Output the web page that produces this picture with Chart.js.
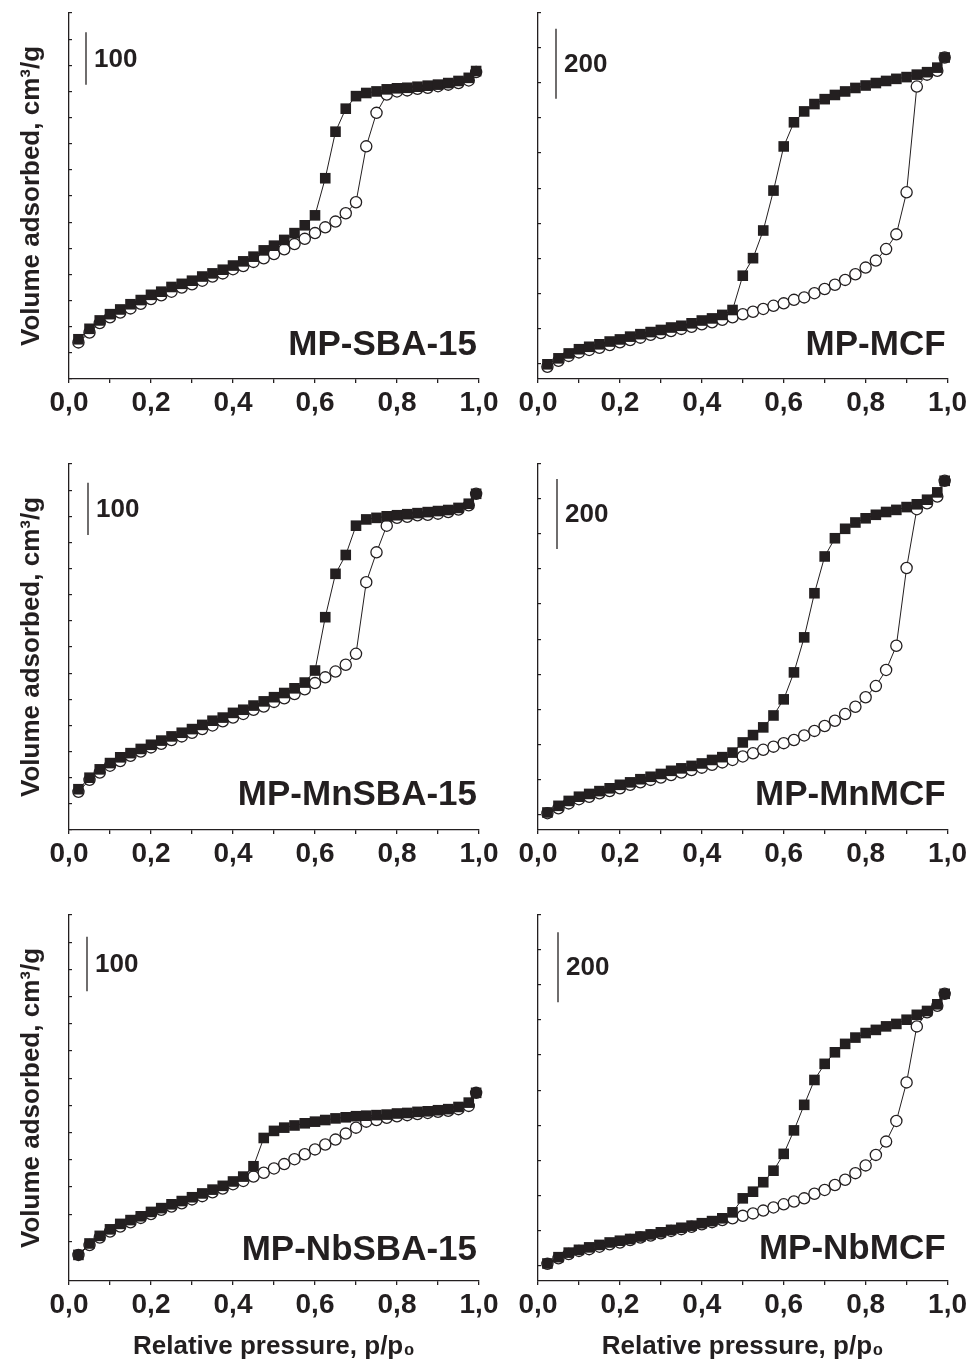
<!DOCTYPE html>
<html>
<head>
<meta charset="utf-8">
<script src="https://cdn.jsdelivr.net/npm/chart.js"></script>
<style>
  body { margin: 0; background: #fff; width: 970px; height: 1366px; position: relative; overflow: hidden; }
  canvas { position: absolute; }
</style>
</head>
<body>
<canvas id="c1" width="520" height="440" style="left:0;top:0"></canvas>
<canvas id="c2" width="501" height="440" style="left:469px;top:0"></canvas>
<canvas id="c3" width="520" height="440" style="left:0;top:451px"></canvas>
<canvas id="c4" width="501" height="440" style="left:469px;top:451px"></canvas>
<canvas id="c5" width="520" height="464" style="left:0;top:902px"></canvas>
<canvas id="c6" width="501" height="464" style="left:469px;top:902px"></canvas>
<script>
// relative pressure p/p0 (same grid for adsorption and desorption)
const pressure = [0.023, 0.05, 0.075, 0.1, 0.125, 0.15, 0.175, 0.2, 0.225, 0.25,
  0.275, 0.3, 0.325, 0.35, 0.375, 0.4, 0.425, 0.45, 0.475, 0.5,
  0.525, 0.55, 0.575, 0.6, 0.625, 0.65, 0.675, 0.7, 0.725, 0.75,
  0.775, 0.8, 0.825, 0.85, 0.875, 0.9, 0.925, 0.95, 0.975, 0.993];

// volume adsorbed, cm3/g (offset unknown)
const sbaAds = [76, 96, 112, 124, 133, 143, 151, 161, 167, 176, 182, 188, 196, 202, 209, 217, 225, 234, 246, 255,
  266, 279, 294, 313, 384, 473, 517, 541, 547, 550, 554, 556, 557, 559, 561, 563, 566, 570, 576, 589];
const sbaDes = [70, 89, 107, 118, 127, 135, 144, 153, 160, 167, 175, 181, 188, 196, 202, 210, 216, 224, 231, 239,
  248, 258, 268, 279, 290, 301, 317, 338, 445, 509, 544, 550, 552, 555, 557, 560, 563, 566, 571, 587];

const mcfAds = [97, 114, 128, 140, 147, 154, 162, 168, 176, 183, 189, 195, 202, 207, 214, 222, 228, 238, 252, 350,
  400, 479, 593, 719, 788, 819, 840, 854, 866, 876, 886, 893, 900, 906, 912, 917, 924, 931, 944, 973];
const mcfDes = [90, 107, 121, 131, 138, 144, 152, 160, 166, 173, 181, 186, 192, 198, 204, 211, 217, 224, 231, 240,
  247, 255, 264, 271, 281, 288, 300, 312, 324, 338, 354, 373, 393, 426, 468, 588, 890, 924, 935, 973];

const mnSbaAds = [78, 100, 116, 128, 139, 147, 155, 163, 171, 179, 186, 193, 201, 209, 215, 224, 230, 238, 246, 254,
  262, 271, 282, 305, 407, 490, 526, 582, 594, 597, 600, 602, 604, 606, 608, 610, 612, 616, 624, 643];
const mnSbaDes = [73, 96, 110, 123, 132, 142, 150, 158, 165, 172, 179, 186, 193, 200, 208, 215, 222, 230, 236, 245,
  252, 260, 269, 281, 292, 303, 316, 337, 474, 531, 582, 597, 599, 602, 603, 605, 608, 613, 621, 643];

const mnMcfAds = [105, 124, 138, 150, 158, 166, 174, 184, 191, 200, 207, 215, 224, 231, 238, 245, 255, 263, 276, 305,
  326, 348, 382, 428, 505, 605, 731, 836, 888, 915, 933, 945, 955, 963, 969, 977, 985, 998, 1019, 1052];
const mnMcfDes = [103, 117, 131, 143, 150, 160, 166, 174, 184, 191, 198, 205, 212, 219, 226, 233, 241, 248, 255, 265,
  274, 284, 293, 303, 312, 325, 338, 352, 367, 386, 407, 434, 466, 512, 581, 803, 971, 988, 1007, 1052];

const nbSbaAds = [75, 96, 110, 122, 132, 139, 146, 154, 161, 168, 174, 181, 188, 195, 202, 210, 219, 238, 290, 303,
  309, 313, 317, 320, 323, 326, 328, 330, 331, 332, 333, 335, 336, 338, 339, 341, 343, 347, 355, 373];
const nbSbaDes = [75, 93, 107, 118, 127, 135, 143, 150, 158, 164, 170, 177, 183, 190, 197, 205, 211, 219, 226, 234,
  242, 251, 260, 269, 278, 287, 298, 309, 320, 323, 327, 330, 332, 334, 336, 338, 340, 343, 349, 373];

const nbMcfAds = [105, 123, 136, 144, 151, 158, 165, 170, 175, 182, 188, 194, 201, 207, 213, 220, 226, 234, 251, 291,
  310, 337, 370, 418, 485, 558, 629, 675, 708, 732, 750, 763, 772, 782, 789, 801, 815, 826, 845, 875];
const nbMcfDes = [104, 120, 132, 141, 146, 153, 160, 165, 172, 179, 185, 191, 198, 203, 210, 217, 223, 229, 234, 241,
  248, 256, 265, 274, 282, 291, 304, 315, 329, 344, 363, 385, 415, 453, 512, 622, 782, 822, 841, 875];

const xTickValues = [0, 0.1, 0.2, 0.3, 0.4, 0.5, 0.6, 0.7, 0.8, 0.9, 1.0];
const xTickLabels = ['0,0', '', '0,2', '', '0,4', '', '0,6', '', '0,8', '', '1,0'];

const ink = '#231f20';
Chart.defaults.font.family = '"Liberation Sans", Arial, sans-serif';
Chart.defaults.font.weight = 'bold';
Chart.defaults.color = ink;

// scale bar + sample name inside each panel
const panelNote = {
  id: 'panelNote',
  afterDraw(chart, args, o) {
    const ctx = chart.ctx, a = chart.chartArea, y = chart.scales.y;
    const x0 = a.left + o.barX;
    const yTop = y.getPixelForValue(o.barFrom + o.barSpan);
    const yBot = y.getPixelForValue(o.barFrom);
    ctx.save();
    ctx.strokeStyle = ink;
    ctx.fillStyle = ink;
    ctx.lineWidth = 1.3;
    ctx.beginPath();
    ctx.moveTo(x0, yTop);
    ctx.lineTo(x0, yBot);
    ctx.stroke();
    ctx.font = 'bold 26px "Liberation Sans"';
    ctx.textBaseline = 'middle';
    ctx.fillText(String(o.barSpan), x0 + 8, (yTop + yBot) / 2 + 1);
    ctx.font = 'bold 35px "Liberation Sans"';
    ctx.textAlign = 'right';
    ctx.textBaseline = 'alphabetic';
    ctx.fillText(o.name, a.right - 2, a.bottom - o.nameDy);
    ctx.restore();
  }
};

function makePanel(id, name, ads, des, yMin, yMax, yStep, barFrom, barSpan, opt) {
  new Chart(document.getElementById(id), {
    type: 'scatter',
    data: {
      datasets: [{
        label: 'adsorption',
        data: pressure.map((p, i) => ({x: p, y: ads[i]})),
        showLine: true,
        borderColor: ink,
        borderWidth: 1,
        pointStyle: 'rect',
        pointRadius: 7.5,
        pointBackgroundColor: ink,
        pointBorderWidth: 0,
        clip: false
      }, {
        label: 'desorption',
        data: pressure.map((p, i) => ({x: p, y: des[i]})),
        showLine: true,
        borderColor: ink,
        borderWidth: 1,
        pointStyle: 'circle',
        pointRadius: 5.6,
        pointBackgroundColor: '#fff',
        pointBorderColor: ink,
        pointBorderWidth: 1.3,
        clip: false
      }]
    },
    options: {
      responsive: false,
      animation: false,
      events: [],
      layout: { padding: { left: 0, right: opt.padRight, top: 13, bottom: 0 } },
      plugins: {
        legend: { display: false },
        tooltip: { enabled: false },
        panelNote: { name: name, barFrom: barFrom, barSpan: barSpan, barX: opt.barX, nameDy: opt.nameDy }
      },
      scales: {
        x: {
          type: 'linear',
          min: 0,
          max: 1,
          afterBuildTicks: s => { s.ticks = xTickValues.map(v => ({value: v})); },
          afterFit: s => { s.height = opt.xHeight; },
          ticks: {
            autoSkip: false,
            maxRotation: 0,
            padding: 3,
            font: { size: 28, weight: 'bold' },
            callback: (v, i) => xTickLabels[i]
          },
          grid: { drawOnChartArea: false, drawTicks: true, tickLength: 4, color: ink, lineWidth: 1.3 },
          border: { color: ink, width: 1.3 },
          title: {
            display: opt.xTitle,
            text: 'Relative pressure, p/p\u2080',
            font: { size: 26, weight: 'bold' },
            padding: { top: 0, bottom: 4 }
          }
        },
        y: {
          min: yMin,
          max: yMax,
          afterBuildTicks: s => { s.ticks = s.ticks.filter(t => t.value % yStep === 0); },
          afterFit: s => { s.width = 69; },
          ticks: { display: false, stepSize: yStep },
          grid: { drawOnChartArea: false, drawTicks: true, tickLength: -3, color: ink, lineWidth: 1.2 },
          border: { color: ink, width: 1.3 },
          title: {
            display: opt.yTitle,
            text: 'Volume adsorbed, cm\u00b3/g',
            font: { size: 26, weight: 'bold' },
            padding: { top: 16, bottom: 0 }
          }
        }
      }
    },
    plugins: [panelNote]
  });
}

const leftTop = { padRight: 41, xHeight: 61, xTitle: false, yTitle: true, barX: 17, nameDy: 24 };
const rightTop = { padRight: 22, xHeight: 61, xTitle: false, yTitle: false, barX: 18, nameDy: 24 };

makePanel('c1', 'MP-SBA-15', sbaAds, sbaDes, 0, 700, 50, 563, 100, leftTop);
makePanel('c2', 'MP-MCF', mcfAds, mcfDes, 55, 1100, 100, 855, 200, rightTop);
makePanel('c3', 'MP-MnSBA-15', mnSbaAds, mnSbaDes, 0, 700, 50, 564, 100, Object.assign({}, leftTop, { barX: 19, nameDy: 25 }));
makePanel('c4', 'MP-MnMCF', mnMcfAds, mnMcfDes, 55, 1100, 100, 857, 200, Object.assign({}, rightTop, { barX: 19, nameDy: 25 }));
makePanel('c5', 'MP-NbSBA-15', nbSbaAds, nbSbaDes, 27, 700, 50, 560, 100, Object.assign({}, leftTop, { xHeight: 85, xTitle: true, barX: 18, nameDy: 21 }));
makePanel('c6', 'MP-NbMCF', nbMcfAds, nbMcfDes, 55, 1100, 100, 851, 200, Object.assign({}, rightTop, { xHeight: 85, xTitle: true, barX: 20, nameDy: 22 }));
</script>
</body>
</html>
